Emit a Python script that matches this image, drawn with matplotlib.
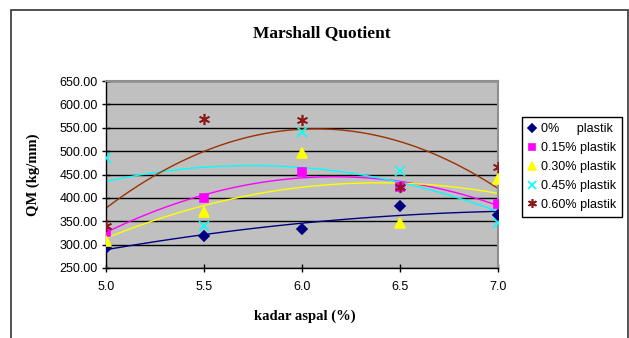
import numpy as np
import matplotlib
matplotlib.use("Agg")
import matplotlib.pyplot as plt
from matplotlib.patches import Rectangle
from matplotlib.ticker import FormatStrFormatter

# kadar aspal (%) and Marshall Quotient (kg/mm) per plastic content
kadar = [5.0, 5.5, 6.0, 6.5, 7.0]
qm_0 = [293, 318, 333, 383, 363]
qm_015 = [327, 400, 456, 424, 387]
qm_030 = [308, 370, 497, 346, 440]
qm_045 = [485, 340, 541, 457, 346]
qm_060 = [340, 569, 567, 424, 465]
labels = ["0%     plastik", "0.15% plastik", "0.30% plastik", "0.45% plastik", "0.60% plastik"]

series = [qm_0, qm_015, qm_030, qm_045, qm_060]
marker_colors = ["#000080", "#FF00FF", "#FFFF00", "#00FFFF", "#8B1A1A"]
line_colors = ["#000080", "#FF00FF", "#FFFF00", "#00FFFF", "#993300"]
markers = ["D", "s", "^", "x", (6, 2, 0)]
sizes = [5, 6, 7, 7, 8]

fig = plt.figure(figsize=(6.29, 3.38), dpi=100)
fig.patch.set_facecolor("white")
# chart frame
fig.patches.append(Rectangle((11 / 629, -0.05), 617 / 629, 1 - 10 / 338 + 0.05,
                             transform=fig.transFigure, fill=False,
                             edgecolor="#333333", linewidth=1.2))

ax = fig.add_axes([106 / 629, 1 - 268 / 338, 392 / 629, 187 / 338])
ax.set_facecolor("#C0C0C0")

xs = np.linspace(5.0, 7.0, 100)
handles = []
for y, mc, lc, m, s, lab in zip(series, marker_colors, line_colors, markers, sizes, labels):
    # 2nd-order polynomial trendline
    coef = np.polyfit(kadar, y, 2)
    ax.plot(xs, np.polyval(coef, xs), color=lc, linewidth=1.0, zorder=2)
    h = ax.plot(kadar, y, linestyle="none", marker=m, markersize=s,
                color=mc, markeredgecolor=mc, markeredgewidth=1.2,
                label=lab, zorder=3)[0]
    handles.append(h)

ax.set_xlim(5.0, 7.0)
ax.set_ylim(250, 650)
ax.set_xticks(kadar)
ax.set_yticks(np.arange(250, 651, 50))
ax.xaxis.set_major_formatter(FormatStrFormatter("%.1f"))
ax.yaxis.set_major_formatter(FormatStrFormatter("%.2f"))
ax.yaxis.grid(True, color="black", linewidth=1.0)
ax.set_axisbelow(True)
ax.tick_params(axis="both", direction="inout", length=6, width=1.0,
               labelsize=9, colors="black")
ax.tick_params(axis="y", pad=3)
ax.tick_params(axis="x", pad=6)
for lbl in ax.get_xticklabels() + ax.get_yticklabels():
    lbl.set_fontfamily("Liberation Sans")
for side in ["top", "right"]:
    ax.spines[side].set_color("#909090")
    ax.spines[side].set_linewidth(1.5)
for side in ["left", "bottom"]:
    ax.spines[side].set_color("black")
    ax.spines[side].set_linewidth(1.0)

fig.text(322 / 629, 1 - 33 / 338, "Marshall Quotient", ha="center", va="center",
         fontfamily="Liberation Serif", fontweight="bold", fontsize=12.5)
fig.text(305 / 629, 1 - 316 / 338, "kadar aspal (%)", ha="center", va="center",
         fontfamily="Liberation Serif", fontweight="bold", fontsize=10.5)
fig.text(33 / 629, 1 - 175 / 338, "QM (kg/mm)", ha="center", va="center",
         rotation=90, fontfamily="Liberation Serif", fontweight="bold", fontsize=10.5)

leg = fig.legend(handles=handles, loc="upper left",
                 bbox_to_anchor=(522 / 629, 1 - 117 / 338),
                 bbox_transform=fig.transFigure, frameon=True, fancybox=False,
                 edgecolor="black", framealpha=1, borderaxespad=0,
                 prop={"family": "Liberation Sans", "size": 9},
                 handlelength=0.6, handletextpad=0.4, labelspacing=0.55,
                 borderpad=0.5, markerscale=0.8)
leg.get_frame().set_linewidth(1.0)

fig.savefig("out.png", dpi=100)
